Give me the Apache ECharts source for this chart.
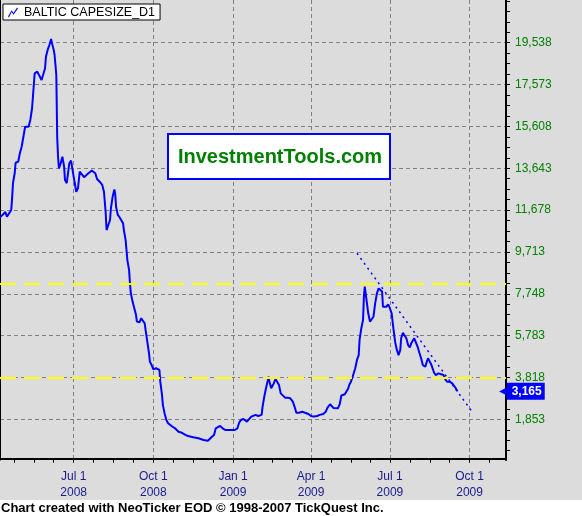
<!DOCTYPE html>
<html><head><meta charset="utf-8">
<script src="https://cdn.jsdelivr.net/npm/echarts@6/dist/echarts.min.js"></script>
<style>html,body{margin:0;padding:0;background:#dcdcdc;} #c{width:582px;height:516px;}</style>
</head><body><div id="c"></div>
<script>
const seriesName = 'BALTIC CAPESIZE_D1';
const pointDates = [
'2008-04-07','2008-04-11','2008-04-13','2008-04-15','2008-04-17','2008-04-20','2008-04-21','2008-04-22','2008-04-24','2008-04-25',
'2008-04-28','2008-04-30','2008-05-02','2008-05-04','2008-05-06','2008-05-10','2008-05-11','2008-05-12','2008-05-14','2008-05-15',
'2008-05-17','2008-05-20','2008-05-22','2008-05-25','2008-05-27','2008-05-29','2008-05-30','2008-06-01','2008-06-03','2008-06-05',
'2008-06-06','2008-06-08','2008-06-09','2008-06-11','2008-06-12','2008-06-13','2008-06-14','2008-06-16','2008-06-18','2008-06-19',
'2008-06-20','2008-06-21','2008-06-23','2008-06-25','2008-06-26','2008-06-28','2008-06-30','2008-07-01','2008-07-04','2008-07-06',
'2008-07-07','2008-07-08','2008-07-10','2008-07-13','2008-07-15','2008-07-18','2008-07-22','2008-07-24','2008-07-26','2008-07-28',
'2008-07-31','2008-08-03','2008-08-05','2008-08-07','2008-08-08','2008-08-10','2008-08-12','2008-08-13','2008-08-15','2008-08-17',
'2008-08-18','2008-08-19','2008-08-21','2008-08-23','2008-08-25','2008-08-27','2008-08-28','2008-08-30','2008-08-31','2008-09-01',
'2008-09-03','2008-09-04','2008-09-05','2008-09-07','2008-09-09','2008-09-11','2008-09-12','2008-09-15','2008-09-17','2008-09-19',
'2008-09-21','2008-09-22','2008-09-24','2008-09-26','2008-09-27','2008-09-29','2008-10-01','2008-10-04','2008-10-06','2008-10-08',
'2008-10-09','2008-10-11','2008-10-12','2008-10-14','2008-10-16','2008-10-18','2008-10-22','2008-10-26','2008-10-30','2008-11-03',
'2008-11-07','2008-11-10','2008-11-16','2008-11-22','2008-11-28','2008-12-03','2008-12-05','2008-12-07','2008-12-10','2008-12-12',
'2008-12-14','2008-12-17','2008-12-20','2008-12-23','2009-01-03','2009-01-06','2009-01-08','2009-01-10','2009-01-13','2009-01-15',
'2009-01-17','2009-01-19','2009-01-22','2009-01-24','2009-01-27','2009-01-30','2009-02-03','2009-02-04','2009-02-06','2009-02-08',
'2009-02-10','2009-02-11','2009-02-12','2009-02-14','2009-02-15','2009-02-17','2009-02-19','2009-02-21','2009-02-23','2009-02-25',
'2009-02-27','2009-03-02','2009-03-05','2009-03-08','2009-03-11','2009-03-13','2009-03-15','2009-03-18','2009-03-22','2009-03-25',
'2009-03-29','2009-04-01','2009-04-04','2009-04-08','2009-04-11','2009-04-15','2009-04-18','2009-04-20','2009-04-23','2009-04-25',
'2009-04-27','2009-04-29','2009-05-02','2009-05-04','2009-05-06','2009-05-10','2009-05-12','2009-05-14','2009-05-15','2009-05-17',
'2009-05-19','2009-05-22','2009-05-24','2009-05-26','2009-05-27','2009-05-29','2009-05-31','2009-06-01','2009-06-02','2009-06-03',
'2009-06-04','2009-06-06','2009-06-08','2009-06-10','2009-06-12','2009-06-14','2009-06-16','2009-06-18','2009-06-20','2009-06-22',
'2009-06-23','2009-06-25','2009-06-27','2009-06-29','2009-07-01','2009-07-03','2009-07-05','2009-07-07','2009-07-09','2009-07-11',
'2009-07-13','2009-07-14','2009-07-16','2009-07-18','2009-07-20','2009-07-22','2009-07-24','2009-07-26','2009-07-29','2009-07-31',
'2009-08-02','2009-08-04','2009-08-06','2009-08-08','2009-08-11','2009-08-12','2009-08-14','2009-08-16','2009-08-18','2009-08-21',
'2009-08-23','2009-08-26','2009-08-29','2009-09-01','2009-09-03','2009-09-05','2009-09-08','2009-09-11','2009-09-13','2009-09-15',
'2009-09-17'
];
const pointValues = [
11340,11490,11600,11370,11400,11680,12250,12950,13420,13900,
13950,14360,14650,15120,15590,15590,15520,15910,16460,17000,
18100,18180,18020,17790,17870,18340,18880,19200,19430,19710,
19510,19200,18960,18020,15120,14180,13640,13870,14180,14110,
13720,13090,12940,13010,13870,14000,13950,13250,12540,12700,
13090,13480,13410,13220,13250,13410,13530,13590,13410,13140,
13010,12860,12540,11530,10740,10660,11210,11760,12310,12650,
12430,11820,11450,11340,11290,11060,10740,10270,9800,9330,
8860,8240,7770,7380,7070,6750,6440,6410,6600,6550,
6360,6050,5500,4950,4560,4400,4200,4250,4320,4170,
3620,2990,2520,2130,1820,1670,1540,1430,1270,1220,
1120,1070,1010,960,880,850,880,1010,1120,1430,
1510,1540,1430,1350,1350,1430,1690,1820,1870,1900,
1740,1770,1980,2060,2060,2010,2060,2440,2910,3310,
3670,3850,3620,3310,3230,3540,3750,3730,3460,3070,
2990,2870,2870,2840,2680,2440,2160,2160,2210,2160,
2100,2010,1980,2010,2060,2100,2210,2400,2560,2520,
2380,2340,2370,2550,2970,3030,3100,3310,3460,3620,
3850,4250,4640,4870,5580,6130,6520,7610,8080,8080,
7460,6830,6440,6470,6670,7300,7770,8000,8030,7850,
7140,7070,7140,7250,7070,6830,6130,5500,5110,4870,
5110,5660,5920,5920,5660,5340,5230,5450,5660,5580,
5260,4980,4720,4400,4320,4480,4720,4680,4400,4040,
3930,4010,3970,3930,3730,3620,3620,3540,3460,3310,
3165
];
const lastValue = 3165;
const supportLevels = [8210, 3800];
const trendDates = ['2009-05-24', '2009-10-03'];
const trendValues = [9648, 2257];
const priceTicks = [1853, 3818, 5783, 7748, 9713, 11678, 13643, 15608, 17573, 19538];
const quarterDates = ['2008-07-01', '2008-10-01', '2009-01-01', '2009-04-01', '2009-07-01', '2009-10-01'];
const axisStart = '2008-04-07', axisEnd = '2009-11-12';
const yMin = -58, yMax = 21543;

const DAY = 86400000;
const categories = [];
for (let t = Date.parse(axisStart); t <= Date.parse(axisEnd); t += DAY) categories.push(new Date(t).toISOString().slice(0, 10));
const idxOf = d => Math.round((Date.parse(d) - Date.parse(axisStart)) / DAY);
const quarterSet = new Set(quarterDates);
// minor ticks: each quarter split into four
const qIdx = ['2008-04-01'].concat(quarterDates, ['2010-01-01']).map(idxOf);
const tickSet = new Set();
for (let q = 0; q < qIdx.length - 1; q++) {
  for (let k = 0; k < 4; k++) {
    const v = Math.round(qIdx[q] + k * (qIdx[q + 1] - qIdx[q]) / 4);
    if (v >= 0 && v < categories.length) tickSet.add(v);
  }
}
const minorTicks = [];
const step = (priceTicks[1] - priceTicks[0]) / 4;
for (let v = priceTicks[0]; v >= yMin; v -= step) minorTicks.push(v);
for (let v = priceTicks[0] + step; v <= yMax; v += step) minorTicks.push(v);

const months = ['Jan','Feb','Mar','Apr','May','Jun','Jul','Aug','Sep','Oct','Nov','Dec'];
const fmtNum = v => String(Math.round(v)).replace(/\B(?=(\d{3})+(?!\d))/g, ',');
const FF = '"Liberation Sans", Arial, sans-serif';

const chart = echarts.init(document.getElementById('c'), null, {renderer: 'canvas'});
chart.setOption({
  backgroundColor: '#dcdcdc',
  animation: false,
  grid: {left: 0, right: 76, top: 0, bottom: 56, containLabel: false, outerBoundsMode: 'none'},
  legend: {
    data: [{name: seriesName, icon: 'path://M0,10 L4,3 L6,6 L10,0 L11,1 L6,8 L4,5 L1,11 Z'}],
    left: 3, top: 4, padding: [2, 5, 1, 5], backgroundColor: '#ffffff', borderColor: '#000000', borderWidth: 1,
    itemWidth: 12, itemHeight: 10, itemGap: 0, selectedMode: false,
    textStyle: {color: '#000', fontSize: 12.5, fontFamily: FF}
  },
  xAxis: {
    type: 'category', data: categories, boundaryGap: false,
    axisLine: {lineStyle: {color: '#000', width: 2}},
    axisTick: {interval: (i) => tickSet.has(i), length: 4, lineStyle: {color: '#000', width: 1}},
    axisLabel: {
      interval: (i, v) => quarterSet.has(v),
      formatter: v => months[+v.slice(5, 7) - 1] + ' ' + (+v.slice(8, 10)) + '\n' + v.slice(0, 4),
      color: '#1a1a8c', fontSize: 12, fontFamily: FF, lineHeight: 16, margin: 9
    },
    splitLine: {show: true, interval: (i, v) => quarterSet.has(v), lineStyle: {color: '#808080', width: 1, type: [4, 3]}}
  },
  yAxis: [
    {
      type: 'value', position: 'right', min: yMin, max: yMax,
      axisLine: {show: true, lineStyle: {color: '#000', width: 2}},
      axisTick: {show: true, customValues: priceTicks, length: 4, lineStyle: {color: '#000'}},
      axisLabel: {customValues: priceTicks, formatter: fmtNum, color: '#008000', fontSize: 12, fontFamily: FF, margin: 9},
      splitLine: {show: true, lineStyle: {color: '#808080', width: 1, type: [4, 3]}}
    },
    {
      type: 'value', position: 'right', min: yMin, max: yMax,
      axisLine: {show: false},
      axisTick: {show: true, customValues: minorTicks, length: 4, lineStyle: {color: '#000'}},
      axisLabel: {show: false}, splitLine: {show: false}
    },
    {
      type: 'value', position: 'right', min: yMin, max: yMax,
      axisLine: {show: false}, axisTick: {show: false}, splitLine: {show: false},
      axisLabel: {
        customValues: [lastValue], margin: -7,
        formatter: v => '{a|\u25C0}{b|' + fmtNum(v) + '}',
        rich: {
          a: {color: '#0000ff', fontSize: 10, fontFamily: 'DejaVu Sans'},
          b: {color: '#ffffff', backgroundColor: '#0000ff', fontWeight: 'bold', fontSize: 12, fontFamily: FF, padding: [3, 3, 2, 5]}
        }
      }
    },
    {
      type: 'value', position: 'left', min: yMin, max: yMax,
      axisLine: {show: true, lineStyle: {color: '#000', width: 1}},
      axisTick: {show: false}, axisLabel: {show: false}, splitLine: {show: false}
    }
  ],
  graphic: [
    {type: 'rect', shape: {x: 168, y: 134, width: 222, height: 45}, style: {fill: '#ffffff', stroke: '#0000ff', lineWidth: 2}, z: 1},
    {type: 'text', x: 280, y: 157, style: {text: 'InvestmentTools.com', fill: '#008000', font: 'bold 20px "Liberation Sans", Arial, sans-serif', align: 'center', verticalAlign: 'middle'}, z: 2},
    {type: 'rect', shape: {x: 0, y: 500, width: 582, height: 16}, style: {fill: '#ffffff'}, z: 1},
    {type: 'text', x: 1, y: 508, style: {text: 'Chart created with NeoTicker EOD \u00A9 1998-2007 TickQuest Inc.', fill: '#000000', font: 'bold 13px "Liberation Sans", Arial, sans-serif', align: 'left', verticalAlign: 'middle'}, z: 2}
  ],
  series: [
    {
      name: seriesName, type: 'line', data: pointDates.map((d, i) => [d, pointValues[i]]),
      symbol: 'none', showSymbol: false, lineStyle: {color: '#0000ff', width: 2}, itemStyle: {color: '#0000ff'}, z: 4,
      markLine: {
        silent: true, symbol: 'none', label: {show: false},
        lineStyle: {color: '#ffff00', width: 2, type: [16, 8]},
        data: supportLevels.map(v => ({yAxis: v}))
      }
    },
    {
      name: 'trend', type: 'line', data: trendDates.map((d, i) => [d, trendValues[i]]),
      symbol: 'none', showSymbol: false, lineStyle: {color: '#0000ff', width: 1.5, type: [2, 4]}, z: 4
    }
  ]
});
</script></body></html>
